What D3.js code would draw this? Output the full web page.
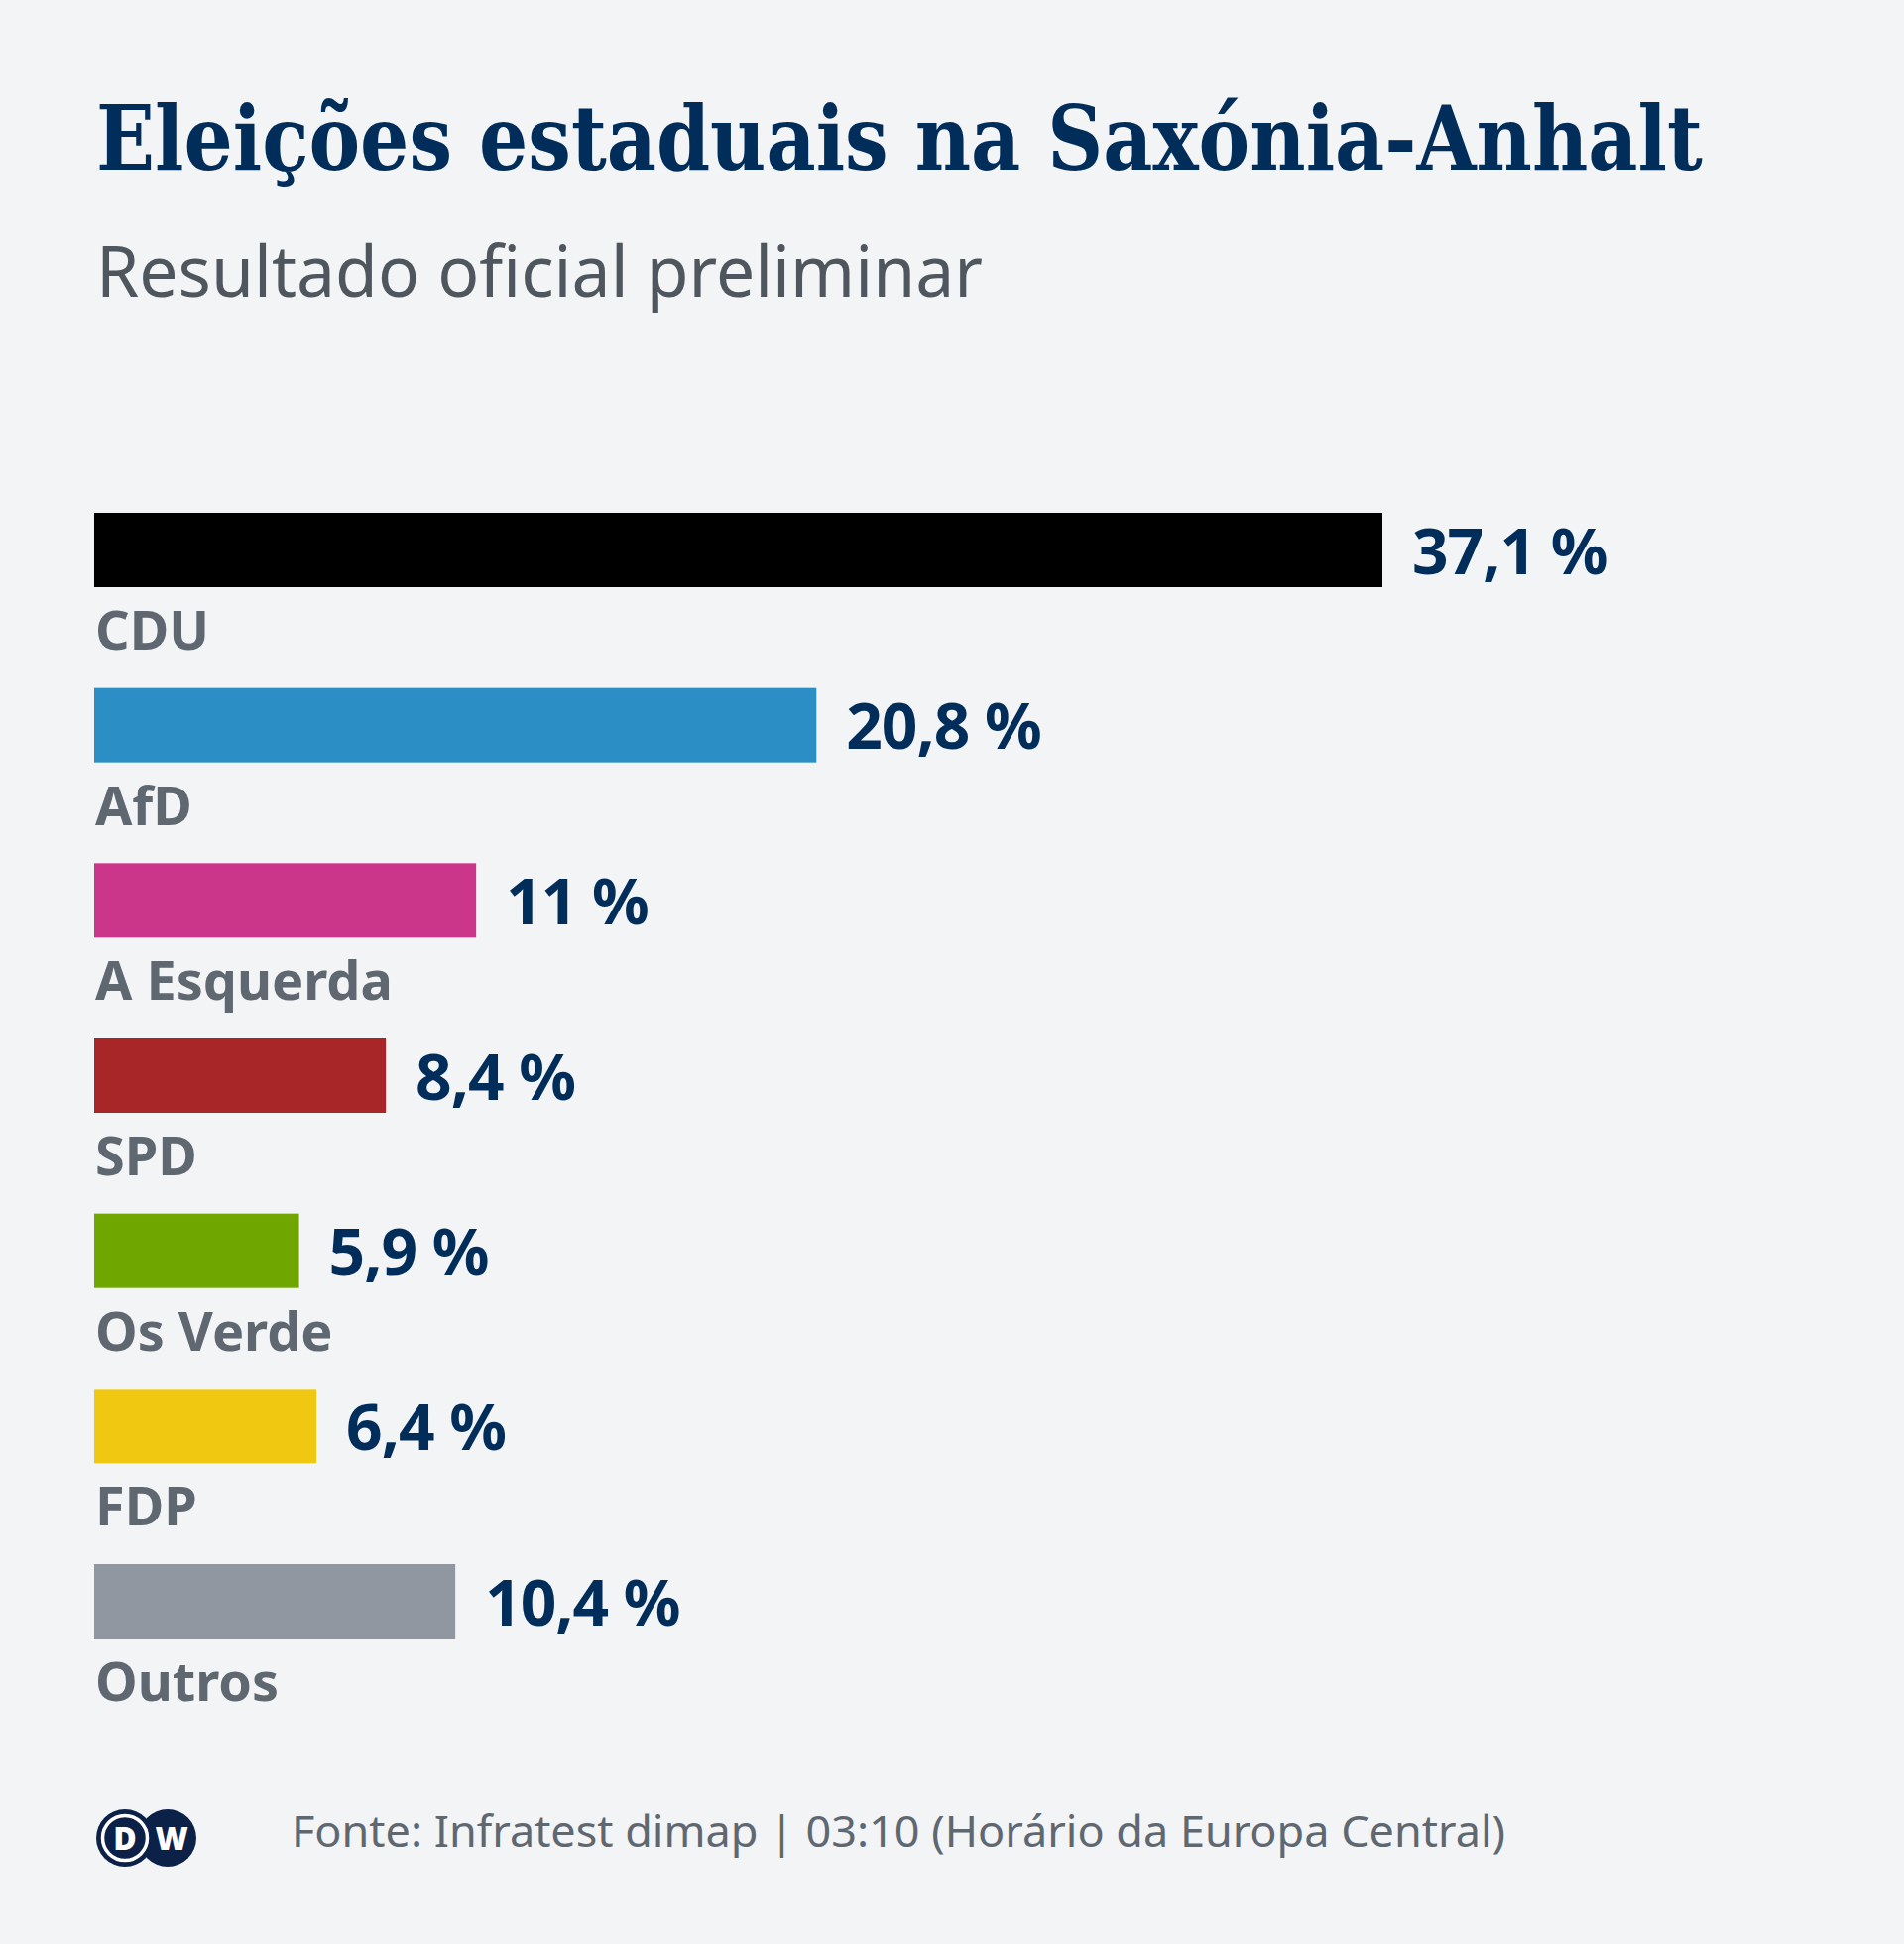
<!DOCTYPE html>
<html>
<head>
<meta charset="utf-8">
<script src="https://cdn.jsdelivr.net/npm/d3@7"></script>
<style>
  body { margin: 0; background: #f2f4f6; }
  svg { display: block; }
</style>
</head>
<body>
<div id="chart"></div>
<script>
const WIDTH = 1920;
const HEIGHT = 1960;

// data
const parties = ["CDU", "AfD", "A Esquerda", "SPD", "Os Verde", "FDP", "Outros"];
const shares = [37.1, 20.8, 11, 8.4, 5.9, 6.4, 10.4];
const shareLabels = ["37,1 %", "20,8 %", "11 %", "8,4 %", "5,9 %", "6,4 %", "10,4 %"];
const partyColors = ["#000000", "#2b8fc6", "#cc368a", "#a92628", "#6fa600", "#f0c811", "#9097a1"];

const TITLE = "Eleições estaduais na Saxónia-Anhalt";
const SUBTITLE = "Resultado oficial preliminar";
const SOURCE = "Fonte: Infratest dimap | 03:10 (Horário da Europa Central)";

const NAVY = "#002d5a";
const GREY = "#5f6770";
const LEFT = 95;
const BAR_H = 75;

var svg = d3.select("#chart").append("svg")
    .attr("width", WIDTH)
    .attr("height", HEIGHT);

svg.append("rect")
    .attr("width", WIDTH)
    .attr("height", HEIGHT)
    .attr("fill", "#f2f4f6");

// title: condensed serif, squeezed to the width of the original
var title = svg.append("text")
    .attr("x", 0)
    .attr("y", 0)
    .attr("font-family", "'DejaVu Serif', serif")
    .attr("font-weight", "bold")
    .attr("font-size", 90)
    .attr("fill", NAVY)
    .text(TITLE);
var titleLen = title.node().getComputedTextLength();
title.attr("transform", "translate(" + (LEFT + 2) + ",171) scale(" + (1620 / titleLen) + ",1)");

svg.append("text")
    .attr("x", LEFT + 2)
    .attr("y", 299)
    .attr("font-family", "'Noto Sans', sans-serif")
    .attr("font-size", 71)
    .attr("fill", "#4f565e")
    .attr("textLength", 894)
    .attr("lengthAdjust", "spacingAndGlyphs")
    .text(SUBTITLE);

// scales
const x = d3.scaleLinear()
    .domain([0, d3.max(shares)])
    .range([0, 1299]);

const y = d3.scalePoint()
    .domain(parties)
    .range([517, 1577]);

const rows = parties.map((p, i) => ({ party: p, share: shares[i], label: shareLabels[i], color: partyColors[i] }));

var rowGroup = svg.append("g").attr("id", "bars")
    .selectAll("g")
    .data(rows)
    .join("g")
    .attr("transform", d => "translate(" + LEFT + "," + y(d.party) + ")");

rowGroup.append("rect")
    .attr("width", d => x(d.share))
    .attr("height", BAR_H)
    .attr("fill", d => d.color);

// value label right of the bar
rowGroup.append("text")
    .attr("x", d => x(d.share) + 30)
    .attr("y", BAR_H / 2 + 24)
    .attr("font-family", "'Noto Sans', sans-serif")
    .attr("font-weight", "bold")
    .attr("font-size", 64)
    .attr("fill", NAVY)
    .style("letter-spacing", "-1px")
    .text(d => d.label);

// party name under the bar
rowGroup.append("text")
    .attr("x", 1)
    .attr("y", BAR_H + 63)
    .attr("font-family", "'Noto Sans', sans-serif")
    .attr("font-weight", "bold")
    .attr("font-size", 54)
    .attr("fill", GREY)
    .text(d => d.party);

// footer: DW logo
const LOGO = "#0b2147";
var logo = svg.append("g").attr("transform", "translate(126,1853)");

logo.append("circle")
    .attr("cx", 43)
    .attr("r", 29)
    .attr("fill", LOGO);

logo.append("circle")
    .attr("r", 29)
    .attr("fill", LOGO);

logo.append("circle")
    .attr("r", 22.5)
    .attr("fill", "none")
    .attr("stroke", "#ffffff")
    .attr("stroke-width", 3.5);

logo.append("text")
    .attr("x", 0)
    .attr("y", 11.5)
    .attr("text-anchor", "middle")
    .attr("font-family", "'Noto Sans', sans-serif")
    .attr("font-weight", "900")
    .attr("font-size", 32)
    .attr("fill", "#ffffff")
    .text("D");

logo.append("text")
    .attr("x", 47)
    .attr("y", 11.5)
    .attr("text-anchor", "middle")
    .attr("font-family", "'Noto Sans', sans-serif")
    .attr("font-weight", "900")
    .attr("font-size", 32)
    .attr("fill", "#ffffff")
    .text("W");

svg.append("text")
    .attr("x", 294)
    .attr("y", 1862)
    .attr("font-family", "'Noto Sans', sans-serif")
    .attr("font-size", 44)
    .attr("fill", GREY)
    .attr("textLength", 1224)
    .attr("lengthAdjust", "spacingAndGlyphs")
    .text(SOURCE);
</script>
</body>
</html>
